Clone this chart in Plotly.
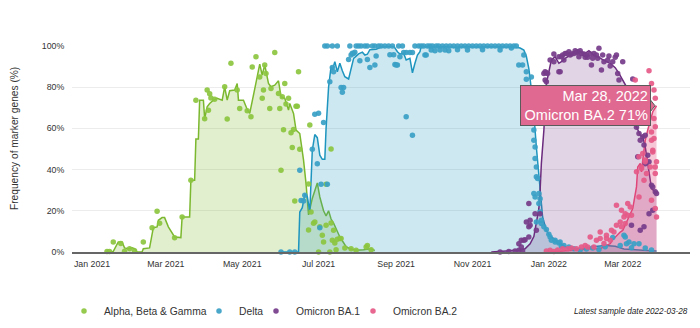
import pandas as pd
import plotly.graph_objects as go

# Day offsets are counted from 1 Jan 2021; values are % of samples.
START = pd.Timestamp("2021-01-01")

# ---- Alpha, Beta & Gamma -------------------------------------------------
alpha_line = [(11, 0), (17, 0.3), (21, 4.9), (24, 4.9), (26, 2), (29, 1.6), (32, 2), (34, 1.6),
              (36, 0), (40, 0), (41, 1.6), (46, 2), (49, 11.8), (52, 12.2), (53, 15.4), (56, 16.7),
              (58, 16.7), (61, 12.2), (66, 7.3), (71, 7), (72, 17), (78, 17), (79, 34.8), (82, 34.8),
              (83, 54.8), (85, 54.8), (86, 73.7), (89, 73.7), (90, 64.8), (92, 70.5), (94, 72.1),
              (97, 73.7), (100, 74.6), (104, 73.7), (106, 80.2), (108, 73.7), (110, 78.3), (114, 78.6),
              (116, 81.8), (117, 73.7), (121, 73.7), (124, 69.2), (126, 67.3), (129, 75.4), (132, 85.1),
              (134, 91.2), (136, 85.9), (138, 90.8), (141, 81.8), (143, 80.2), (146, 81), (149, 83.1),
              (151, 75.4), (154, 74.6), (157, 68.9), (158, 72.1), (161, 67.3), (163, 59.2), (166, 57.5),
              (169, 44.6), (171, 33.2), (173, 18), (176, 26), (180, 33.5), (182, 26.7), (185, 20),
              (187, 17.5), (189, 20), (191, 16), (193, 14), (195, 11.5), (197, 9), (198, 7.3),
              (201, 4.5), (203, 2.6), (206, 1.6), (211, 0.8), (217, 1.1), (222, 1.6), (226, 0.8)]
alpha_pts = [(12, 0.3), (14, 0.3), (17, 4.9), (23, 4.1), (26, 0.4), (30, 1.6), (34, 0.6), (41, 4.9),
             (48, 11.8), (52, 19.8), (54, 14), (66, 6.9), (72, 17), (79, 34.8), (83, 73.7), (90, 64.7),
             (92, 78.6), (93, 68.8), (94, 76.8), (95, 74.7), (98, 74.1), (106, 80.2), (108, 64.6),
             (111, 91.6), (116, 78.6), (118, 69.7), (124, 68.6), (127, 65.6), (128, 89.8), (131, 94.8),
             (134, 85), (136, 74.6), (137, 78.6), (138, 90.8), (139, 86.7), (142, 69.7), (143, 79.4),
             (146, 96.8), (149, 77), (150, 69.7), (151, 39.7), (152, 75.4), (153, 59.4), (154, 81.8),
             (155, 71.9), (157, 74.6), (159, 57.9), (160, 50.7), (161, 59.5), (162, 24.8), (163, 70.8),
             (164, 70.8), (165, 87.5), (166, 49.9), (173, 33), (173, 10.7), (174, 61.7), (175, 19.4),
             (177, 14), (178, 14.6), (181, 0), (182, 12.2), (184, 8.1), (185, 4.9), (187, 32.9),
             (187, 13), (190, 0), (191, 50), (191, 14.1), (192, 5.7), (193, 10.5), (194, 4.4),
             (195, 1.1), (196, 6.2), (198, 6.5), (199, 6.6), (202, 1.9), (207, 1.6), (211, 0.8),
             (219, 2.4), (220, 3.2), (223, 1.1)]

# ---- Delta -----------------------------------------------------------------
delta_line = [(150, 0), (165, 0), (166, 19.4), (168, 21.5), (170, 28), (172, 27), (174, 19.5),
              (176, 49.4), (178, 57), (180, 55.5), (182, 47), (184, 45), (186, 45), (187, 60),
              (189, 80), (191, 90), (192, 88.3), (194, 92.4), (196, 87.5), (198, 91.6), (200, 88),
              (202, 85.1), (205, 84), (207, 89.5), (209, 94), (213, 96.2), (216, 97), (218, 95.6),
              (220, 96), (222, 98.2), (227, 98.4), (231, 99.5), (236, 99.7), (241, 100), (244, 97.2),
              (246, 96.1), (249, 96.4), (251, 93.2), (254, 94), (256, 87), (258, 91.6), (260, 95.6),
              (262, 97.2), (263, 100), (270, 99.5), (280, 99.7), (290, 99.4), (300, 99.7), (310, 99.5),
              (320, 99.7), (330, 99.5), (338, 99.5), (342, 99), (345, 98), (347, 95), (349, 89),
              (351, 79), (353, 67), (355, 51), (357, 37), (358, 28), (360, 17), (363, 10.5), (366, 7.7),
              (369, 6.5), (372, 4.5), (375, 3.5), (379, 2.4), (385, 1.6), (392, 1.6), (400, 2.5),
              (410, 3.2), (418, 2.8), (425, 1.5), (440, 0.8), (451, 0.5)]
delta_pts = [(151, 0), (158, 0), (162, 0), (166, 39.7), (167, 25), (169, 24.8), (170, 27.6), (176, 49.9),
             (178, 66.9), (180, 42.9), (181, 67.3), (182, 11.8), (183, 32.9), (185, 62.9), (186, 100),
             (188, 100), (188, 32.9), (190, 82.7), (192, 89.6), (192, 100), (193, 87.5), (196, 100),
             (199, 79.9), (200, 77.5), (201, 79.9), (205, 93.5), (206, 100), (207, 95.6), (208, 96.5),
             (209, 96.4), (210, 97), (211, 100), (213, 100), (214, 92.9), (215, 100), (218, 100),
             (220, 93.5), (220, 100), (222, 89.6), (224, 100), (226, 90.8), (226, 100), (227, 95.1),
             (229, 100), (231, 100), (234, 100), (237, 100), (238, 95.8), (240, 100), (241, 95.8),
             (242, 91), (243, 90.8), (244, 90.8), (245, 100), (246, 94.8), (248, 100), (249, 96.8),
             (251, 96.8), (251, 65.6), (254, 96.8), (256, 96.8), (256, 56.7), (258, 100), (261, 100),
             (263, 100), (265, 100), (266, 95.6), (267, 95.6), (268, 100), (270, 100), (271, 98),
             (272, 100), (274, 97.7), (275, 100), (277, 100), (278, 98), (280, 100), (282, 98),
             (283, 100), (285, 97.7), (286, 100), (289, 100), (292, 98.2), (292, 100), (295, 100),
             (298, 100), (300, 98), (301, 100), (304, 100), (307, 100), (310, 100), (312, 98.2),
             (313, 100), (316, 100), (319, 100), (322, 100), (325, 100), (326, 98), (328, 100),
             (331, 100), (334, 100), (335, 99), (337, 100), (339, 100), (341, 90.8), (344, 90.8),
             (345, 95.6), (347, 83.8), (347, 87.5), (348, 79), (351, 85), (352, 77), (352, 78.6),
             (353, 59.2), (353, 54.3), (353, 28.4), (354, 51), (354, 45.4), (354, 26.7), (355, 41.3),
             (355, 36.5), (355, 14.6), (356, 35.7), (357, 23.5), (357, 28.4), (358, 25.9), (358, 19.4),
             (359, 13.8), (359, 15.4), (361, 12.2), (363, 10.9), (365, 8.6), (366, 7.3), (367, 5.7),
             (370, 5.7), (370, 4.9), (373, 4.4), (374, 4.9), (375, 2.8), (377, 3.2), (381, 2.4),
             (385, 1.6), (390, 1), (395, 1.5), (400, 2), (405, 1.2), (410, 2.5), (416, 7), (422, 3.2),
             (425, 8.1), (426, 7.3), (427, 4), (429, 4.9), (431, 2.1), (433, 4), (437, 4), (442, 2),
             (447, 1)]

# ---- Omicron BA.1 ----------------------------------------------------------
ba1_line = [(319, 0), (330, 0.4), (338, 0.8), (342, 1), (346, 1.6), (350, 4), (353, 7.5), (355, 13.8),
            (357, 21), (358, 30), (359, 43), (361, 59), (362, 72), (363, 81.8), (365, 87.5), (367, 93.2),
            (370, 94.8), (373, 91.6), (375, 92.4), (378, 94), (382, 95.6), (386, 97.2), (390, 97.2),
            (394, 96.4), (397, 97.7), (401, 95.6), (405, 94.5), (409, 93), (414, 91.6), (418, 89.5),
            (421, 86.7), (424, 83.5), (427, 80.2), (430, 72), (432, 66), (435, 60.8), (438, 56.7),
            (440, 55.9), (442, 51), (444, 43), (446, 33.2), (447, 30.8), (450, 29.2), (451, 28.7)]
ba1_pts = [(326, 0), (333, 0.3), (338, 0.5), (341, 0.8), (341, 4), (343, 2.4), (343, 5.7), (344, 0.5),
           (345, 5.7), (346, 6), (347, 14.6), (349, 12.2), (349, 7.3), (349, 23.5), (350, 13), (350, 15.4),
           (354, 18.6), (355, 10.5), (358, 18.6), (361, 86.7), (362, 83.5), (362, 87.5), (363, 87),
           (363, 82.7), (364, 86.7), (366, 93.2), (369, 92.4), (369, 96.1), (373, 87.5), (373, 94.8),
           (374, 87.5), (375, 94.8), (376, 95.6), (377, 93.2), (378, 96.4), (379, 96.4), (381, 97.2),
           (382, 95.6), (383, 96.1), (385, 96.4), (386, 97.7), (387, 96.8), (388, 97.2), (389, 94.8),
           (390, 97.7), (391, 96.4), (393, 96.1), (394, 94.5), (395, 95.6), (396, 94.5), (398, 96.1),
           (399, 90.8), (400, 94), (401, 96.4), (403, 95.6), (404, 94), (405, 98.9), (407, 88.3),
           (408, 95.6), (409, 92.4), (412, 93.2), (413, 95.1), (414, 90.3), (416, 92.4), (418, 94.5),
           (419, 95.6), (420, 86.7), (421, 83.5), (424, 92.4), (431, 13), (432, 84), (435, 60.5),
           (436, 46.2), (437, 57.5), (438, 54.3), (438, 10.5), (440, 55.9), (441, 51.9), (441, 12.2),
           (442, 56.7), (442, 42.9), (444, 47), (445, 43.8), (445, 18.6), (447, 32.4), (448, 31.6),
           (448, 20.3), (450, 29.2), (451, 28.4)]

# ---- Omicron BA.2 ----------------------------------------------------------
ba2_line = [(365, 0), (380, 0.5), (392, 1.2), (398, 1.6), (406, 1.6), (411, 3.2), (414, 4), (416, 6),
            (419, 8.1), (422, 9.7), (424, 10.5), (427, 14.6), (430, 18.6), (432, 21.1), (435, 31.6),
            (436, 41.3), (438, 43), (439, 38.9), (440, 44.6), (442, 54.3), (444, 59.2), (446, 64),
            (448, 68.1), (451, 71)]
ba2_pts = [(363, 0.5), (366, 0.8), (369, 0.3), (372, 1), (376, 1.6), (380, 1.6), (383, 2), (387, 1.6),
           (391, 2.4), (394, 3.2), (396, 2.4), (398, 7.3), (401, 2.4), (403, 5.7), (406, 9.7), (406, 6.5),
           (409, 4.1), (411, 6.5), (411, 8.1), (414, 5.7), (415, 10.5), (417, 9.7), (419, 13), (419, 22.7),
           (422, 14.6), (423, 12.2), (423, 20.3), (425, 17), (426, 18.6), (426, 13.8), (428, 17.8),
           (428, 23.5), (430, 21.9), (431, 17.8), (434, 83.5), (435, 38.9), (437, 26.7), (437, 46.2),
           (439, 41.3), (439, 40.5), (440, 47.8), (441, 34.8), (442, 44.6), (442, 43.8), (443, 38.1),
           (445, 88), (446, 41.3), (447, 58.3), (447, 54.3), (447, 25.1), (447, 81.8), (448, 49.4),
           (448, 48.6), (449, 55.1), (449, 64.8), (449, 78.6), (450, 41.3), (450, 21.1), (450, 60.8),
           (450, 38.1), (450, 74.6), (451, 17), (451, 43.8)]

X_TICK_FORMAT = "%b %Y"
Y_TICKS = [0, 20, 40, 60, 80, 100]
Y_TICK_TEXT = [f"{v}%" for v in Y_TICKS]

series = [
    dict(name="Alpha, Beta & Gamma", line=alpha_line, pts=alpha_pts,
         lc="#7cb82f", dc="#8cc540", fc="rgba(124,184,47,0.23)", legend="legend", lx=64),
    dict(name="Delta", line=delta_line, pts=delta_pts,
         lc="#1e95be", dc="#3a9fc6", fc="rgba(30,149,190,0.22)", legend="legend2", lx=199),
    dict(name="Omicron BA.1", line=ba1_line, pts=ba1_pts,
         lc="#6b2b7e", dc="#763c8a", fc="rgba(107,43,126,0.2)", legend="legend3", lx=256),
    dict(name="Omicron BA.2", line=ba2_line, pts=ba2_pts,
         lc="#e04679", dc="#e55a88", fc="rgba(224,70,121,0.3)", legend="legend4", lx=353),
]


def to_dates(days):
    return [START + pd.Timedelta(days=d) for d in days]


# plot area geometry (pixels)
W, H = 700, 328
ML, MR, MT, MB = 72, 10, 46, 76
PW = W - ML - MR
PH = H - MT - MB


def px_to_paper_x(px):
    return (px - ML) / PW


def px_to_paper_y(py):
    return (H - MB - py) / PH


fig = go.Figure()

# shaded areas with the smoothed frequency line
for s in series:
    d, v = zip(*s["line"])
    fig.add_trace(go.Scatter(
        x=to_dates(d), y=list(v), mode="lines", fill="tozeroy",
        fillcolor=s["fc"], line=dict(color=s["lc"], width=1.5),
        name=s["name"], showlegend=False, cliponaxis=False,
        hovertemplate="%{x|%b %d, %Y}<br>" + s["name"] + " %{y:.0f}%<extra></extra>"))

# individual sample points
for s in series:
    d, v = zip(*s["pts"])
    fig.add_trace(go.Scatter(
        x=to_dates(d), y=list(v), mode="markers",
        marker=dict(color=s["dc"], size=5.5, opacity=0.92),
        name=s["name"], legend=s["legend"], cliponaxis=False,
        hovertemplate="%{x|%b %d, %Y}<br>" + s["name"] + " %{y:.0f}%<extra></extra>"))

LEGEND_ROW_PX = 311
legend_common = dict(orientation="h", xref="container", yref="container",
                     xanchor="left", yanchor="middle", y=(H - LEGEND_ROW_PX) / H,
                     bgcolor="rgba(0,0,0,0)", borderwidth=0,
                     font=dict(size=10.3, color="#333"))
legends = {}
for s in series:
    legends[s["legend"]] = dict(legend_common, x=s["lx"] / W)

# hover-style label on the latest BA.2 value
last_day, last_val = ba2_line[-1]
last_date = START + pd.Timedelta(days=last_day)
tip_text = f"{last_date:%b} {last_date.day}, {last_date:%Y}<br>Omicron BA.2 {last_val:.0f}%"
tip_fill = "#df6990"
tip_border = "#5a5a5a"

fig.add_shape(type="path", xref="x", yref="y", xsizemode="pixel", ysizemode="pixel",
              xanchor=last_date, yanchor=last_val,
              path="M -7,7 L -1.5,0 L -7,-7 Z",
              fillcolor=tip_fill, line=dict(color=tip_border, width=1), layer="above")

annotations = [
    dict(x=last_date, y=last_val, xref="x", yref="y", text=tip_text, showarrow=False,
         xanchor="right", yanchor="middle", xshift=-6, align="right",
         width=125, height=35, borderpad=2, borderwidth=1,
         bgcolor=tip_fill, bordercolor=tip_border,
         font=dict(size=14.5, color="white")),
    dict(x=px_to_paper_x(14), y=px_to_paper_y(139), xref="paper", yref="paper",
         text="Frequency of marker genes (%)", showarrow=False, textangle=-90,
         xanchor="center", yanchor="middle", font=dict(size=10.2, color="#333")),
    dict(x=1, y=px_to_paper_y(LEGEND_ROW_PX), xref="paper", yref="paper",
         text=f"<i>Latest sample date {last_date:%Y-%m-%d}</i>", showarrow=False,
         xanchor="right", yanchor="middle", font=dict(size=8.2, color="#222")),
]

x_left = START + pd.Timedelta(days=(ML - 92) / 1.2517)
x_right = START + pd.Timedelta(days=(W - MR - 92) / 1.2517)

fig.update_layout(
    width=W, height=H,
    margin=dict(l=ML, r=MR, t=MT, b=MB, pad=0, autoexpand=False),
    paper_bgcolor="white", plot_bgcolor="white",
    font=dict(family="Liberation Sans, Arial, Helvetica, sans-serif", color="#333"),
    showlegend=True,
    annotations=annotations,
    hovermode="closest",
    xaxis=dict(type="date", range=[x_left, x_right], tick0="2021-01-01", dtick="M2",
               tickformat=X_TICK_FORMAT, showgrid=False, zeroline=False,
               showline=True, linecolor="#666", linewidth=1.5,
               ticks="outside", ticklen=3, tickcolor="rgba(0,0,0,0)",
               tickfont=dict(size=8.8, color="#333")),
    yaxis=dict(range=[0, 100], tickmode="array", tickvals=Y_TICKS, ticktext=Y_TICK_TEXT,
               showgrid=True, gridcolor="#ececec", gridwidth=1, zeroline=False, showline=False,
               ticks="outside", ticklen=5, tickcolor="rgba(0,0,0,0)",
               tickfont=dict(size=8.8, color="#333")),
    **legends,
)

fig.write_html("out.html")
